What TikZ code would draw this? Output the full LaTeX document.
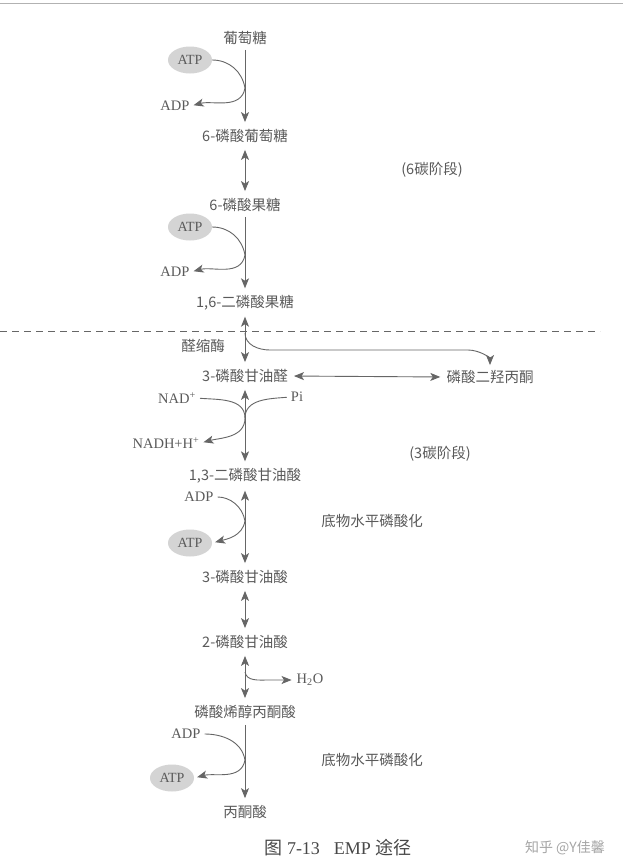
\documentclass[tikz,border=0pt]{standalone}
\usepackage{fontspec}
\setmainfont{Liberation Serif}
\newfontfamily\cjk{Noto Sans CJK SC}
\usetikzlibrary{arrows.meta,shapes.geometric}
\definecolor{ink}{HTML}{5A5A5A}
\definecolor{linec}{HTML}{666666}
\definecolor{ellc}{HTML}{D4D4D4}
\tikzset{
  lbl/.style={text=ink,inner sep=1pt,font=\cjk\fontsize{14.5}{16}\selectfont},
  lat/.style={text=ink,inner sep=1pt,font=\fontsize{14.5}{16}\selectfont},
  ell/.style={ellipse,fill=ellc,text=ink,inner sep=0pt,minimum width=44pt,minimum height=27pt,font=\fontsize{14}{16}\selectfont},
  conn/.style={draw=linec,line width=0.9pt},
  arr/.style={conn,-{Stealth[length=10pt,width=8pt,inset=2.5pt]}},
  darr/.style={conn,{Stealth[length=10pt,width=8pt,inset=2.5pt]}-{Stealth[length=10pt,width=8pt,inset=2.5pt]}},
}
\begin{document}
\begin{tikzpicture}[x=1pt,y=-1pt]
\useasboundingbox (0,0) rectangle (623,868);
\fill[white] (0,0) rectangle (623,868);
\draw[draw=gray!60,line width=0.8pt] (0,3) -- (623,3);

% main chain nodes
\node[lbl] (glc) at (245,38) {葡萄糖};
\node[lbl] (g6p) at (245,136) {6-磷酸葡萄糖};
\node[lbl] (f6p) at (245,205) {6-磷酸果糖};
\node[lbl] (fbp) at (245,303) {1,6-二磷酸果糖};
\node[lbl] (gap) at (245,376) {3-磷酸甘油醛};
\node[lbl] (dhap) at (490,377) {磷酸二羟丙酮};
\node[lbl] (bpg) at (245,476) {1,3-二磷酸甘油酸};
\node[lbl] (pg3) at (245,577) {3-磷酸甘油酸};
\node[lbl] (pg2) at (245,642) {2-磷酸甘油酸};
\node[lbl] (pep) at (245,712) {磷酸烯醇丙酮酸};
\node[lbl] (pyr) at (245,812) {丙酮酸};

% side labels
\node[ell] (atp1) at (190,60) {ATP};
\node[lat] (adp1) at (175,106) {ADP};
\node[ell] (atp2) at (190,227) {ATP};
\node[lat] (adp2) at (175,272) {ADP};
\node[lbl] (ald) at (203,346) {醛缩酶};
\node[lat] (nad) at (177,398) {NAD\textsuperscript{+}};
\node[lat] (pi) at (297,397) {Pi};
\node[lat] (nadh) at (166,443) {NADH+H\textsuperscript{+}};
\node[lat] (adp3) at (199,497) {ADP};
\node[ell] (atp3) at (190,543) {ATP};
\node[lat] (h2o) at (310,680) {H\textsubscript{2}O};
\node[lat] (adp4) at (186,734) {ADP};
\node[ell] (atp4) at (172,778) {ATP};

\node[lbl] (c6) at (432,170) {(6碳阶段)};
\node[lbl] (c3) at (440,454) {(3碳阶段)};
\node[lbl] (sub1) at (372,521) {底物水平磷酸化};
\node[lbl] (sub2) at (372,760) {底物水平磷酸化};

\node[text=ink!80!black,font=\fontsize{18}{20}\selectfont] (cap) at (338,848) {{\cjk 图} 7-13\hspace{14pt}EMP {\cjk 途径}};
\node[text=gray!70,font=\cjk\fontsize{14}{16}\selectfont] (wm) at (565,848) {知乎 @Y佳馨};

% dashed separator
\coordinate (dl) at (0,331);
\coordinate (dr) at (600,331);
\draw[conn,line width=0.8pt,dash pattern=on 7pt off 5pt] (dl) -- (dr);

% coordinates for junctions
\coordinate (j1) at (245,88);
\coordinate (j2) at (245,255);
\coordinate (j3) at (245,333);
\coordinate (j4) at (245,418);
\coordinate (j5) at (245,521);
\coordinate (j6) at (245,672);
\coordinate (j7) at (245,760);

% main arrows
\draw[arr,shorten <=4pt,shorten >=6pt] (glc.south) -- (g6p.north);
\draw[darr,shorten <=6pt,shorten >=6pt] (g6p.south) -- (f6p.north);
\draw[arr,shorten <=4pt,shorten >=6pt] (f6p.south) -- (fbp.north);
\draw[darr,shorten <=5pt,shorten >=6pt] (fbp.south) -- (gap.north);
\draw[darr,shorten <=5pt,shorten >=5pt] (gap.east) -- (dhap.west);
\draw[darr,shorten <=6pt,shorten >=6pt] (gap.south) -- (bpg.north);
\draw[darr,shorten <=6pt,shorten >=6pt] (bpg.south) -- (pg3.north);
\draw[darr,shorten <=6pt,shorten >=6pt] (pg3.south) -- (pg2.north);
\draw[darr,shorten <=6pt,shorten >=6pt] (pg2.south) -- (pep.north);
\draw[arr,shorten <=5pt,shorten >=6pt] (pep.south) -- (pyr.north);

% side curves
\draw[conn] (atp1.east) to[out=0,in=100] (j1);
\draw[arr,shorten >=3pt] (j1) to[out=-100,in=15] (adp1.east);
\draw[conn] (atp2.east) to[out=0,in=100] (j2);
\draw[arr,shorten >=3pt] (j2) to[out=-100,in=15] (adp2.east);

\draw[arr,shorten >=4pt] (j3) to[out=-90,in=180] (270,350) -- (468,350) to[out=0,in=90] (dhap.north);

\draw[conn,shorten <=3pt] (nad.east) to[out=-5,in=90] (j4);
\draw[conn,shorten <=3pt] (pi.west) to[out=185,in=90] (j4);
\draw[arr,shorten >=3pt] (j4) to[out=-90,in=15] (nadh.east);

\draw[conn,shorten <=3pt] (adp3.east) to[out=0,in=100] (j5);
\draw[arr,shorten >=3pt] (j5) to[out=-100,in=15] (atp3.east);

\draw[arr,shorten >=4pt] (j6) to[out=-80,in=180] (268,680) -- (h2o.west);

\draw[conn,shorten <=3pt] (adp4.east) to[out=0,in=100] (j7);
\draw[arr,shorten >=3pt] (j7) to[out=-100,in=15] (atp4.east);
\end{tikzpicture}
\end{document}
